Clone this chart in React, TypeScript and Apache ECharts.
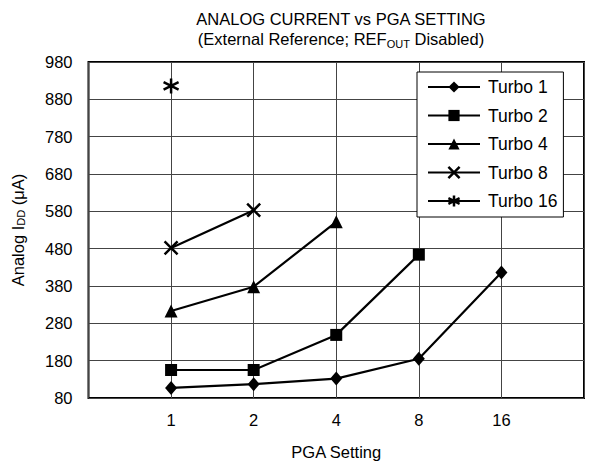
import React, { useEffect, useRef } from "react";
import * as echarts from "echarts";

const categories = ["1", "2", "4", "8", "16"];
const yTicks = [80, 180, 280, 380, 480, 580, 680, 780, 880, 980];
const seriesNames = ["Turbo 1", "Turbo 2", "Turbo 4", "Turbo 8", "Turbo 16"];
const turbo1 = [107, 117, 132, 185, 416];
const turbo2 = [155, 155, 249, 464, null];
const turbo4 = [313, 378, 552, null, null];
const turbo8 = [482, 583, null, null, null];
const turbo16 = [916, null, null, null, null];

const FONT = "Liberation Sans, Arial, sans-serif";

function pts(vals: (number | null)[]) {
  return vals
    .map((v, i) => (v == null ? null : [i + 1, v]))
    .filter((p) => p !== null);
}

export default function App() {
  const ref = useRef<HTMLDivElement>(null);
  useEffect(() => {
    if (!ref.current) return;
    const chart = echarts.init(ref.current, null, { renderer: "svg" });
    const lineStyle = { color: "#000", width: 2.2 };
    const mk = (name: string, vals: (number | null)[], symbol: string, size: any, stroke: boolean) => ({
      name,
      type: "line",
      data: pts(vals),
      symbol,
      symbolSize: size,
      showSymbol: true,
      lineStyle,
      itemStyle: stroke
        ? { color: "#000", borderColor: "#000", borderWidth: 2.5 }
        : { color: "#000", borderWidth: 0 },
      z: 3,
    });
    chart.setOption({
      animation: false,
      backgroundColor: "#fff",
      textStyle: { fontFamily: FONT },
      title: {
        left: 336,
        textAlign: "center",
        top: 4,
        text: "{a|ANALOG CURRENT vs PGA SETTING}\n{a|(External Reference; REF}{s|OUT}{a| Disabled)}",
        textStyle: {
          fontFamily: FONT,
          fontWeight: "normal",
          rich: {
            a: { fontSize: 16.5, color: "#000", fontFamily: FONT, fontWeight: "normal", lineHeight: 20 },
            s: { fontSize: 11, color: "#000", fontFamily: FONT, fontWeight: "normal", lineHeight: 20, verticalAlign: "bottom", padding: [7, 0, 0, 0] },
          },
        },
      },
      legend: {
        orient: "vertical",
        left: 417,
        top: 72,
        padding: [6, 6, 7, 10],
        itemGap: 10.5,
        itemWidth: 52,
        itemHeight: 14,
        borderColor: "#000",
        borderWidth: 1,
        backgroundColor: "#fff",
        textStyle: { fontSize: 17.5, color: "#000", fontFamily: FONT, padding: [0, 0, 0, 3] },
        data: seriesNames.map((n, i) =>
          i >= 3 ? { name: n, itemStyle: { color: "#000", borderColor: "#000", borderWidth: 2.5 } } : { name: n }
        ),
      },
      grid: {
        left: 88.5,
        right: 5,
        top: 62,
        bottom: 67,
        show: true,
        borderColor: "#000",
        borderWidth: 2,
        backgroundColor: "transparent",
      },
      xAxis: {
        type: "value",
        min: 0,
        max: 6,
        interval: 1,
        name: "PGA Setting",
        nameLocation: "middle",
        nameGap: 45,
        nameTextStyle: { fontSize: 16.5, color: "#000", fontFamily: FONT },
        axisLine: { show: false },
        axisTick: { show: false },
        axisLabel: {
          fontSize: 16.5,
          color: "#000",
          fontFamily: FONT,
          margin: 13,
          formatter: (v: number) => (v >= 1 && v <= categories.length ? categories[v - 1] : ""),
        },
        splitLine: { show: true, lineStyle: { color: "#444", width: 1 } },
      },
      yAxis: {
        type: "value",
        min: yTicks[0],
        max: yTicks[yTicks.length - 1],
        interval: 100,
        name: "{a|Analog I}{s|DD}{a| (μA)}",
        nameLocation: "middle",
        nameGap: 62,
        nameTextStyle: {
          fontFamily: FONT,
          rich: {
            a: { fontSize: 16.5, color: "#000", fontFamily: FONT },
            s: { fontSize: 11, color: "#000", fontFamily: FONT, verticalAlign: "bottom", padding: [7, 0, 0, 0] },
          },
        },
        axisLine: { show: false },
        axisTick: { show: false },
        axisLabel: { fontSize: 16.5, color: "#000", fontFamily: FONT, margin: 16 },
        splitLine: { show: true, lineStyle: { color: "#444", width: 1 } },
      },
      series: [
        mk(seriesNames[0], turbo1, "diamond", [12, 14], false),
        mk(seriesNames[1], turbo2, "rect", 12, false),
        mk(seriesNames[2], turbo4, "triangle", 13, false),
        mk(seriesNames[3], turbo8, "path://M0,0L10,10M10,0L0,10", 13, true),
        mk(seriesNames[4], turbo16, "path://M5,0L5,10M0.7,2.5L9.3,7.5M9.3,2.5L0.7,7.5", 15, true),
      ],
    });
    return () => chart.dispose();
  }, []);
  return <div ref={ref} style={{ width: 589, height: 465, position: "absolute", left: 0, top: 0 }} />;
}
